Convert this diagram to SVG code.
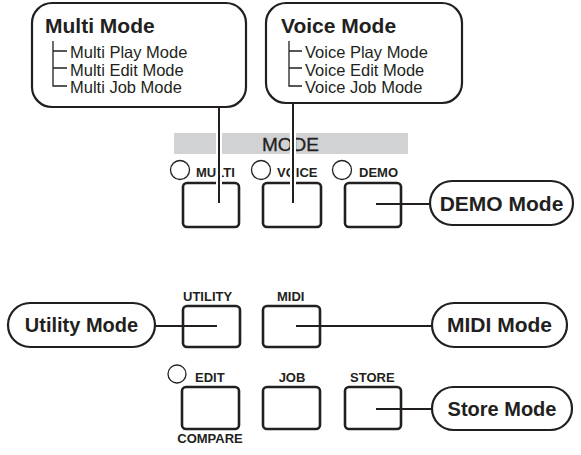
<svg xmlns="http://www.w3.org/2000/svg" width="581" height="455" viewBox="0 0 581 455">
<style>
.box{fill:#fff;stroke:#231f20;stroke-width:2.2}
.btn{fill:#fff;stroke:#231f20;stroke-width:2.6}
.led{fill:#fff;stroke:#231f20;stroke-width:1.3}
.title{font-family:"Liberation Sans",Arial,sans-serif;font-weight:bold;font-size:21px;fill:#231f20}
.sub{font-family:"Liberation Sans",Arial,sans-serif;font-size:16.5px;fill:#231f20}
.lbl{font-family:"Liberation Sans",Arial,sans-serif;font-weight:bold;font-size:13px;fill:#231f20}
.tree{fill:none;stroke:#231f20;stroke-width:1.3}
.wire{fill:none;stroke:#231f20;stroke-width:2}
.halo{fill:none;stroke:#fff;stroke-width:6}
</style>
<rect x="174" y="133" width="234" height="21" fill="#d1d2d4"/>
<text x="290.5" y="151" text-anchor="middle" font-family="Liberation Sans,Arial,sans-serif" font-size="19" fill="#231f20" stroke="#231f20" stroke-width="0.3">MODE</text>
<g id="panel-labels">
<circle class="led" cx="180" cy="170" r="9.5"/>
<text class="lbl" x="196" y="177">MULTI</text>
<circle class="led" cx="261" cy="170" r="9.5"/>
<text class="lbl" x="277" y="177">VOICE</text>
<circle class="led" cx="342" cy="170" r="9.5"/>
<text class="lbl" x="359" y="177">DEMO</text>
<text class="lbl" x="183" y="301">UTILITY</text>
<text class="lbl" x="277" y="301">MIDI</text>
<circle class="led" cx="177" cy="374" r="9"/>
<text class="lbl" x="195" y="382">EDIT</text>
<text class="lbl" x="292" y="382" text-anchor="middle">JOB</text>
<text class="lbl" x="350" y="382">STORE</text>
<text class="lbl" x="210" y="443" text-anchor="middle">COMPARE</text>
</g>
<g id="btn-multi"><rect class="btn" x="183" y="183" width="56" height="44" rx="4"/></g>
<g id="btn-voice"><rect class="btn" x="263" y="183" width="58" height="44" rx="4"/></g>
<g id="btn-demo"><rect class="btn" x="345" y="183" width="56" height="44" rx="4"/></g>
<g id="btn-utility"><rect class="btn" x="183" y="306" width="57" height="41" rx="4"/></g>
<g id="btn-midi"><rect class="btn" x="263" y="306" width="57" height="41" rx="4"/></g>
<g id="btn-edit"><rect class="btn" x="182" y="387" width="57" height="42" rx="4"/></g>
<g id="btn-job"><rect class="btn" x="263" y="387" width="57" height="42" rx="4"/></g>
<g id="btn-store"><rect class="btn" x="345" y="387" width="56" height="42" rx="4"/></g>
<g id="connectors">
<path class="halo" d="M219 108V203M293 104V203"/>
<path class="wire" d="M219 106V203M293 102V203"/>
<path class="wire" d="M376 204H430M155 326H217M296 326H432M376 409H432"/>
</g>
<g id="multi-mode">
<rect class="box" x="32" y="3" width="214" height="104" rx="20"/>
<text class="title" x="45" y="33">Multi Mode</text>
<path class="tree" d="M53 41V86H67M53 51H67M53 68H67"/>
<text class="sub" x="70" y="58">Multi Play Mode</text>
<text class="sub" x="70" y="76">Multi Edit Mode</text>
<text class="sub" x="70" y="93">Multi Job Mode</text>
</g>
<g id="voice-mode">
<rect class="box" x="266" y="3" width="196" height="100" rx="20"/>
<text class="title" x="281" y="33">Voice Mode</text>
<path class="tree" d="M289 41V86H302M289 51H302M289 68H302"/>
<text class="sub" x="305" y="58">Voice Play Mode</text>
<text class="sub" x="305" y="76">Voice Edit Mode</text>
<text class="sub" x="305" y="93">Voice Job Mode</text>
</g>
<g id="demo-mode">
<rect class="box" x="430" y="181" width="143" height="44" rx="22"/>
<text class="title" x="501.5" y="211" text-anchor="middle">DEMO Mode</text>
</g>
<g id="utility-mode">
<rect class="box" x="8" y="303" width="147" height="44" rx="22"/>
<text class="title" x="81.5" y="332" text-anchor="middle" style="font-size:20px">Utility Mode</text>
</g>
<g id="midi-mode">
<rect class="box" x="432" y="303" width="135" height="44" rx="22"/>
<text class="title" x="499.5" y="332" text-anchor="middle">MIDI Mode</text>
</g>
<g id="store-mode">
<rect class="box" x="432" y="387" width="140" height="43" rx="21.5"/>
<text class="title" x="502" y="416" text-anchor="middle" style="font-size:20px">Store Mode</text>
</g>
</svg>
